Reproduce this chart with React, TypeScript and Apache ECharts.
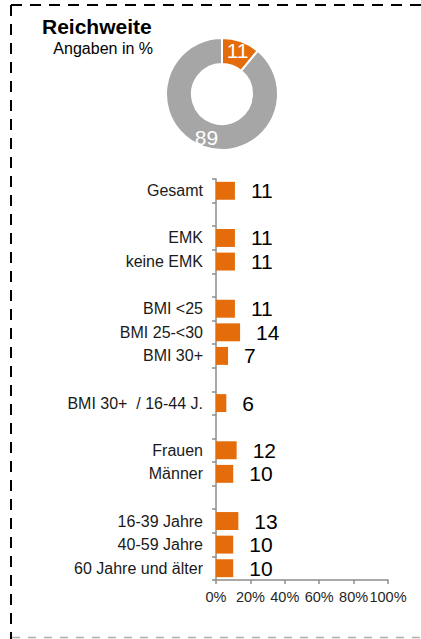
import React, { useEffect, useRef } from "react";
import * as echarts from "echarts";

const categories = [
  "Gesamt", " ", "EMK", "keine EMK", "  ", "BMI <25", "BMI 25-<30", "BMI 30+", "   ",
  "BMI 30+  / 16-44 J.", "    ", "Frauen", "Männer", "     ", "16-39 Jahre", "40-59 Jahre", "60 Jahre und älter",
];
const values: (number | null)[] = [11, null, 11, 11, null, 11, 14, 7, null, 6, null, 12, 10, null, 13, 10, 10];
const donutNames = ["Reichweite", "keine Reichweite"];
const donutValues = [11, 89];
const xMin = 0;
const xMax = 100;
const xInterval = 20;

const FONT = "'Liberation Sans', Arial, sans-serif";
const ORANGE = "#E46C0A";
const GRAY = "#A6A6A6";

export default function App() {
  const ref = useRef<HTMLDivElement>(null);
  useEffect(() => {
    if (!ref.current) return;
    const chart = echarts.init(ref.current, undefined, { renderer: "svg" });
    chart.setOption({
      animation: false,
      textStyle: { fontFamily: FONT },
      grid: { left: 216, right: 33, top: 179, bottom: 59, containLabel: false },
      xAxis: {
        type: "value",
        min: xMin,
        max: xMax,
        interval: xInterval,
        axisLine: { show: true, lineStyle: { color: "#8c8c8c", width: 1.5 } },
        axisTick: { show: true, length: 4, lineStyle: { color: "#8c8c8c", width: 1.5 } },
        splitLine: { show: false },
        axisLabel: { formatter: "{value}%", fontSize: 14.5, color: "#262626", margin: 9, fontFamily: FONT },
      },
      yAxis: {
        type: "category",
        data: categories,
        inverse: true,
        axisLine: { show: true, lineStyle: { color: "#8c8c8c", width: 1.5 } },
        axisTick: { show: true, length: 4, lineStyle: { color: "#8c8c8c", width: 1.5 } },
        axisLabel: { fontSize: 16, color: "#1a1a1a", margin: 13, fontFamily: FONT, interval: 0 },
      },
      series: [
        {
          type: "bar",
          data: values,
          barWidth: "76%",
          itemStyle: { color: ORANGE },
          label: {
            show: true,
            position: "right",
            distance: 16,
            fontSize: 21,
            color: "#000",
            fontFamily: FONT,
          },
        },
        {
          type: "pie",
          center: [222, 94],
          radius: [30, 56],
          startAngle: 90,
          clockwise: true,
          data: donutNames.map((n, i) => ({
            name: n,
            value: donutValues[i],
            itemStyle: { color: i === 0 ? ORANGE : GRAY },
          })),
          itemStyle: { borderColor: "#fff", borderWidth: 2 },
          label: {
            show: true,
            position: "inside",
            formatter: "{c}",
            color: "#fff",
            fontSize: 21,
            fontFamily: FONT,
          },
          labelLine: { show: false },
          emphasis: { disabled: true },
        },
      ],
      graphic: [
        {
          type: "text",
          left: 42,
          top: 16,
          style: { text: "Reichweite", font: `bold 21px ${FONT}`, fill: "#000" },
        },
        {
          type: "text",
          right: 421 - 153,
          top: 40,
          style: { text: "Angaben in %", font: `16px ${FONT}`, fill: "#000", align: "right" },
        },
        {
          type: "line",
          shape: { x1: 11, y1: 5, x2: 421, y2: 5 },
          style: { stroke: "#000", lineWidth: 2, lineDash: [11, 8] },
        },
        {
          type: "line",
          shape: { x1: 11, y1: 5, x2: 11, y2: 639 },
          style: { stroke: "#000", lineWidth: 2, lineDash: [11, 8] },
        },
        {
          type: "line",
          shape: { x1: 12, y1: 637.5, x2: 421, y2: 637.5 },
          style: { stroke: "#b0b0b0", lineWidth: 1.5, lineDash: [8, 8] },
        },
      ],
    });
    return () => chart.dispose();
  }, []);
  return (
    <div
      ref={ref}
      style={{ position: "absolute", left: 0, top: 0, width: 421, height: 639, background: "#fff" }}
    />
  );
}
